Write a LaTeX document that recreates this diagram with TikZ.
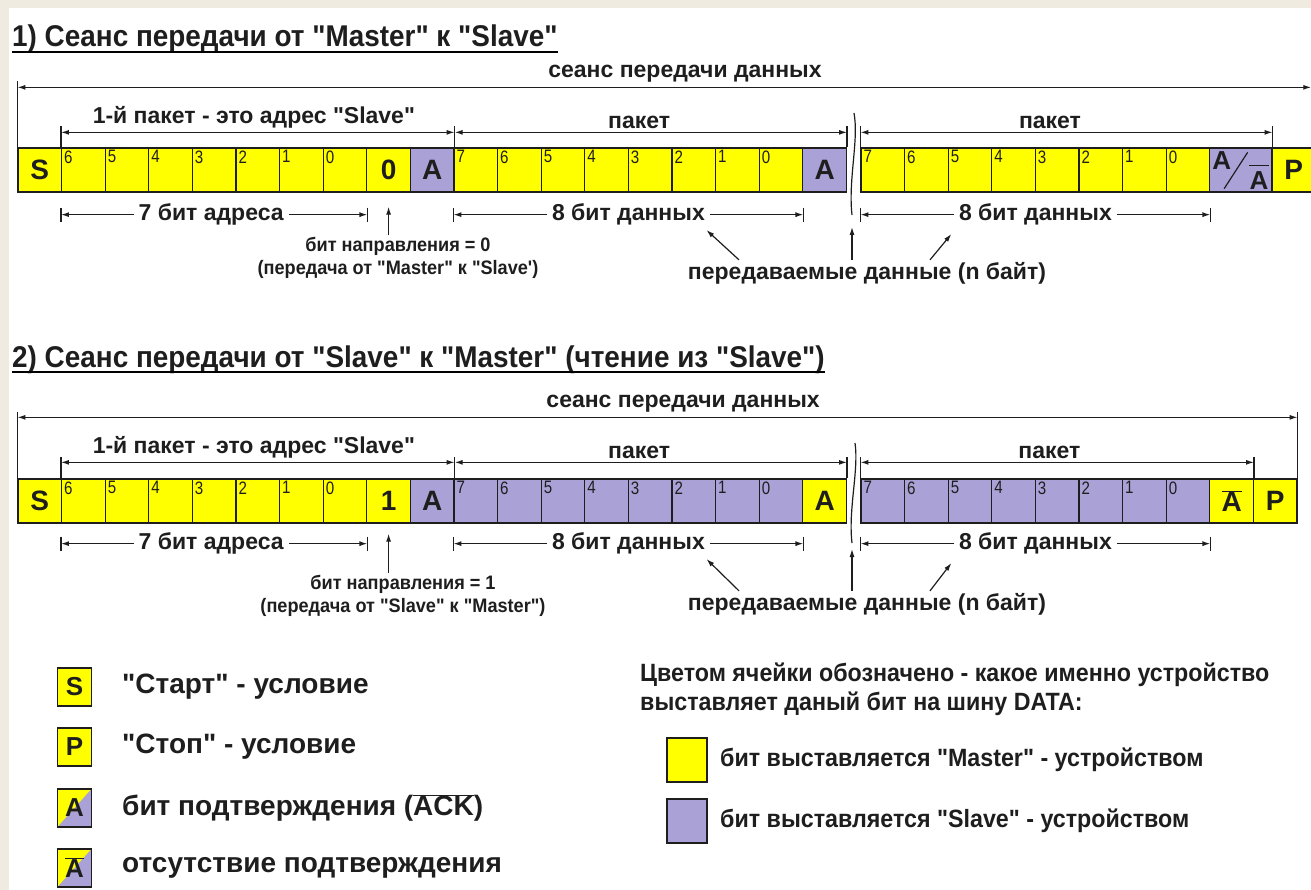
\documentclass[tikz,border=0pt]{standalone}
\usepackage{fontspec}
\setmainfont{Liberation Sans}[Ligatures=TeXOff]
\newfontfamily\narrowsf{Liberation Sans}[FakeStretch=0.84]
\newfontfamily\headsf{Liberation Sans}[FakeStretch=0.93]
\usetikzlibrary{arrows.meta}
\definecolor{mastercol}{RGB}{255,255,0}
\definecolor{slavecol}{RGB}{170,162,214}
\definecolor{paper}{RGB}{239,235,225}
\definecolor{ink}{RGB}{30,30,30}

\begin{document}
\begin{tikzpicture}[x=1pt,y=1pt,>={Latex[length=8pt,width=5pt]}]
\tikzstyle{every node}+=[inner sep=0pt, text=ink]
\tikzstyle{bitcell}=[draw=ink, line width=1.3pt, minimum width=43.6pt, minimum height=44pt, font=\bfseries\fontsize{28}{28}\selectfont]
\tikzstyle{mcell}=[bitcell, fill=mastercol]
\tikzstyle{scell}=[bitcell, fill=slavecol]
\tikzstyle{digit}=[anchor=north west, inner sep=3pt, font=\narrowsf\fontsize{18}{18}\selectfont]
\tikzstyle{dimline}=[draw=ink, line width=1.3pt, <->]
\tikzstyle{ext}=[draw=ink, line width=1.2pt]
\tikzstyle{ptr}=[draw=ink, line width=1.2pt, ->]
\tikzstyle{lbl}=[font=\bfseries\fontsize{23}{23}\selectfont]
\tikzstyle{onlbl}=[lbl, fill=white, inner xsep=5pt, inner ysep=2pt]
\tikzstyle{dirnote}=[align=center, font=\bfseries\headsf\fontsize{19.5}{23}\selectfont]
\tikzstyle{headline}=[anchor=base west, font=\bfseries\headsf\fontsize{30}{30}\selectfont]
\tikzstyle{swatch}=[draw=ink, line width=1.2pt, minimum width=34pt, minimum height=38pt, font=\bfseries\fontsize{26}{26}\selectfont]
\tikzstyle{swtext}=[anchor=west, font=\bfseries\fontsize{28}{28}\selectfont]
\tikzstyle{hinttext}=[anchor=west, font=\bfseries\headsf\fontsize{25}{25}\selectfont]
\useasboundingbox (0,0) rectangle (1311,-890);
\fill [paper] (0,0) rectangle (1311,-890);
\fill [white] (9,-8) rectangle (1311,-890);

\node [headline] (t1) at (12,-47) {1) Сеанс передачи от "Master" к "Slave"};
\draw [line width=1.6pt] ([yshift=-5pt]t1.base west) -- ([yshift=-5pt]t1.base east);
\node [mcell] (s1) at (39.8,-170) {S};
\foreach \d [count=\k] in {6,5,4,3,2,1,0} {
  \node [mcell] (r1a\d) at (39.8+43.6*\k,-170) {};
  \node [digit] at (r1a\d.north west) {\d};
}
\node [mcell] (rw1) at (388.6,-170) {0};
\node [scell] (ack1) at (432.2,-170) {A};
\foreach \d [count=\k] in {7,6,5,4,3,2,1,0} {
  \node [mcell] (r1b\d) at (432.2+43.6*\k,-170) {};
  \node [digit] at (r1b\d.north west) {\d};
}
\node [scell] (ack2) at (824.6,-170) {A};
\foreach \d [count=\k] in {7,6,5,4,3,2,1,0} {
  \node [mcell] (r1c\d) at (839.2+43.6*\k,-170) {};
  \node [digit] at (r1c\d.north west) {\d};
}
\node [scell, minimum width=62.2pt] (ack3) at (1240.9,-170) {};
\node [anchor=north west, font=\bfseries\fontsize{26}{26}\selectfont] (ak3a) at ([xshift=3pt,yshift=-4pt]ack3.north west) {A};
\node [anchor=south east, font=\bfseries\fontsize{26}{26}\selectfont] (ak3b) at ([xshift=-4pt,yshift=3pt]ack3.south east) {A};
\draw [ext] ([xshift=15pt,yshift=4pt]ack3.south west) -- ([xshift=-25pt,yshift=-5pt]ack3.north east);
\draw [ext] ([yshift=6pt]ak3b.north west) -- ([yshift=6pt]ak3b.north east);
\node [mcell] (stop1) at (1293.8,-170) {P};

\draw [ext] (s1.north west) -- ++(0,66);
\draw [dimline] ([yshift=60pt]s1.north west) -- ([xshift=-5pt,yshift=60pt]stop1.north east) node [lbl, pos=.516, above=4pt] {сеанс передачи данных};
\draw [ext] (r1a6.north west) -- ++(0,21);
\draw [ext] (ack1.north east) -- ++(0,21);
\draw [ext] (ack2.north east) -- ++(0,21);
\draw [ext] (r1c7.north west) -- ++(0,21);
\draw [ext] (ack3.north east) -- ++(0,21);
\draw [dimline] ([yshift=15pt]r1a6.north west) -- ([yshift=15pt]ack1.north east) node [lbl, pos=.49, above=3pt] {1-й пакет - это адрес "Slave"};
\draw [dimline] ([yshift=15pt]ack1.north east) -- ([yshift=15pt]ack2.north east) node [lbl, pos=.47, above=3pt] {пакет};
\draw [dimline] ([yshift=15pt]r1c7.north west) -- ([yshift=15pt]ack3.north east) node [lbl, pos=.46, above=3pt] {пакет};
\draw [dimline] ([yshift=-22pt]r1a6.south west) -- ([yshift=-22pt]r1a0.south east) node [onlbl, pos=.49] (adr1) {7 бит адреса};
\draw [dimline] ([yshift=-22pt]r1b7.south west) -- ([yshift=-22pt]r1b0.south east) node [onlbl, midway] (dat1a) {8 бит данных};
\draw [dimline] ([yshift=-22pt]r1c7.south west) -- ([yshift=-22pt]r1c0.south east) node [onlbl, midway] (dat1b) {8 бит данных};
\draw [ext] ([yshift=-15pt]r1a6.south west) -- ++(0,-14);
\draw [ext] ([yshift=-15pt]r1a0.south east) -- ++(0,-14);
\draw [ext] ([yshift=-15pt]r1b7.south west) -- ++(0,-14);
\draw [ext] ([yshift=-15pt]r1b0.south east) -- ++(0,-14);
\draw [ext] ([yshift=-15pt]r1c7.south west) -- ++(0,-14);
\draw [ext] ([yshift=-15pt]r1c0.south east) -- ++(0,-14);
\coordinate (cut1) at (852,-215);
\draw [ext] (854,-113) .. controls (859,-140) and (848,-180) .. (cut1);

\node [dirnote] (dir1) at (398,-258) {бит направления = 0\\(передача от "Master" к "Slave')};
\draw [ptr] ([yshift=2pt]dir1.north -| rw1) -- ([yshift=-14pt]rw1.south);
\node [lbl] (pay1) at (867,-273) {передаваемые данные (n байт)};
\draw [ptr] ([xshift=-128pt,yshift=2pt]pay1.north) -- ([xshift=-4pt,yshift=-2pt]dat1a.south east);
\draw [ptr] ([yshift=2pt]pay1.north -| cut1) -- ([yshift=-12pt]cut1);
\draw [ptr] ([xshift=63pt,yshift=2pt]pay1.north) -- ([xshift=-2pt,yshift=-6pt]dat1b.south west);

\node [headline] (t2) at (12,-367) {2) Сеанс передачи от "Slave" к "Master" (чтение из "Slave")};
\draw [line width=1.6pt] ([yshift=-5pt]t2.base west) -- ([yshift=-5pt]t2.base east);
\node [mcell] (s2) at (39.8,-501) {S};
\foreach \d [count=\k] in {6,5,4,3,2,1,0} {
  \node [mcell] (r2a\d) at (39.8+43.6*\k,-501) {};
  \node [digit] at (r2a\d.north west) {\d};
}
\node [mcell] (rw2) at (388.6,-501) {1};
\node [scell] (ack4) at (432.2,-501) {A};
\foreach \d [count=\k] in {7,6,5,4,3,2,1,0} {
  \node [scell] (r2b\d) at (432.2+43.6*\k,-501) {};
  \node [digit] at (r2b\d.north west) {\d};
}
\node [mcell] (ack5) at (824.6,-501) {A};
\foreach \d [count=\k] in {7,6,5,4,3,2,1,0} {
  \node [scell] (r2c\d) at (839.2+43.6*\k,-501) {};
  \node [digit] at (r2c\d.north west) {\d};
}
\node [mcell] (nak2) at (1231.6,-501) {$\overline{\mbox{A}}$};
\node [mcell] (stop2) at (1275.2,-501) {P};

\draw [ext] (s2.north west) -- ++(0,66);
\draw [ext] (stop2.north east) -- ++(0,66);
\draw [dimline] ([yshift=61pt]s2.north west) -- ([yshift=61pt]stop2.north east) node [lbl, pos=.52, above=4pt] {сеанс передачи данных};
\draw [ext] (r2a6.north west) -- ++(0,21);
\draw [ext] (ack4.north east) -- ++(0,21);
\draw [ext] (ack5.north east) -- ++(0,21);
\draw [ext] (r2c7.north west) -- ++(0,21);
\draw [ext] (nak2.north east) -- ++(0,21);
\draw [dimline] ([yshift=16pt]r2a6.north west) -- ([yshift=16pt]ack4.north east) node [lbl, pos=.49, above=3pt] {1-й пакет - это адрес "Slave"};
\draw [dimline] ([yshift=16pt]ack4.north east) -- ([yshift=16pt]ack5.north east) node [lbl, pos=.47, above=3pt] {пакет};
\draw [dimline] ([yshift=16pt]r2c7.north west) -- ([yshift=16pt]nak2.north east) node [lbl, pos=.48, above=3pt] {пакет};
\draw [dimline] ([yshift=-20pt]r2a6.south west) -- ([yshift=-20pt]r2a0.south east) node [onlbl, pos=.49] (adr2) {7 бит адреса};
\draw [dimline] ([yshift=-20pt]r2b7.south west) -- ([yshift=-20pt]r2b0.south east) node [onlbl, midway] (dat2a) {8 бит данных};
\draw [dimline] ([yshift=-20pt]r2c7.south west) -- ([yshift=-20pt]r2c0.south east) node [onlbl, midway] (dat2b) {8 бит данных};
\draw [ext] ([yshift=-13pt]r2a6.south west) -- ++(0,-14);
\draw [ext] ([yshift=-13pt]r2a0.south east) -- ++(0,-14);
\draw [ext] ([yshift=-13pt]r2b7.south west) -- ++(0,-14);
\draw [ext] ([yshift=-13pt]r2b0.south east) -- ++(0,-14);
\draw [ext] ([yshift=-13pt]r2c7.south west) -- ++(0,-14);
\draw [ext] ([yshift=-13pt]r2c0.south east) -- ++(0,-14);
\coordinate (cut2) at (852,-543);
\draw [ext] (855,-443) .. controls (859,-470) and (848,-510) .. (cut2);

\node [dirnote] (dir2) at (403,-596) {бит направления = 1\\(передача от "Slave" к "Master")};
\draw [ptr] ([yshift=2pt]dir2.north -| rw2) -- ([yshift=-10pt]rw2.south);
\node [lbl] (pay2) at (867,-604) {передаваемые данные (n байт)};
\draw [ptr] ([xshift=-128pt,yshift=2pt]pay2.north) -- ([xshift=-4pt,yshift=-2pt]dat2a.south east);
\draw [ptr] ([yshift=2pt]pay2.north -| cut2) -- ([yshift=-6pt]cut2);
\draw [ptr] ([xshift=63pt,yshift=2pt]pay2.north) -- ([xshift=-2pt,yshift=-6pt]dat2b.south west);

\node [swatch, fill=mastercol] (keys) at (74.5,-687) {S};
\node [swtext] at (122,-687) {"Старт" - условие};
\node [swatch, fill=mastercol] (keyp) at (74.5,-747) {P};
\node [swtext] at (122,-747) {"Стоп" - условие};
\node [swatch, fill=mastercol, path picture={\fill [slavecol] (path picture bounding box.south west) -- (path picture bounding box.south east) -- (path picture bounding box.north east) -- cycle;}] (keya) at (74.5,-808) {A};
\node [swtext] at (122,-808) {бит подтверждения ($\overline{\mbox{ACK}}$)};
\node [swatch, fill=mastercol, path picture={\fill [slavecol] (path picture bounding box.south west) -- (path picture bounding box.south east) -- (path picture bounding box.north east) -- cycle;}] (keyn) at (74.5,-868) {$\overline{\mbox{A}}$};
\node [swtext] at (122,-868) {отсутствие подтверждения};

\node [anchor=north west, align=left, font=\bfseries\headsf\fontsize{25}{29}\selectfont] (hint) at (640,-663) {Цветом ячейки обозначено - какое именно устройство\\выставляет даный бит на шину DATA:};
\node [swatch, fill=mastercol, minimum width=40pt, minimum height=44pt] (keym) at (687,-760) {};
\node [hinttext] at (720,-760) {бит выставляется "Master" - устройством};
\node [swatch, fill=slavecol, minimum width=40pt, minimum height=44pt] (keysl) at (687,-821) {};
\node [hinttext] at (720,-821) {бит выставляется "Slave" - устройством};
\end{tikzpicture}
\end{document}
